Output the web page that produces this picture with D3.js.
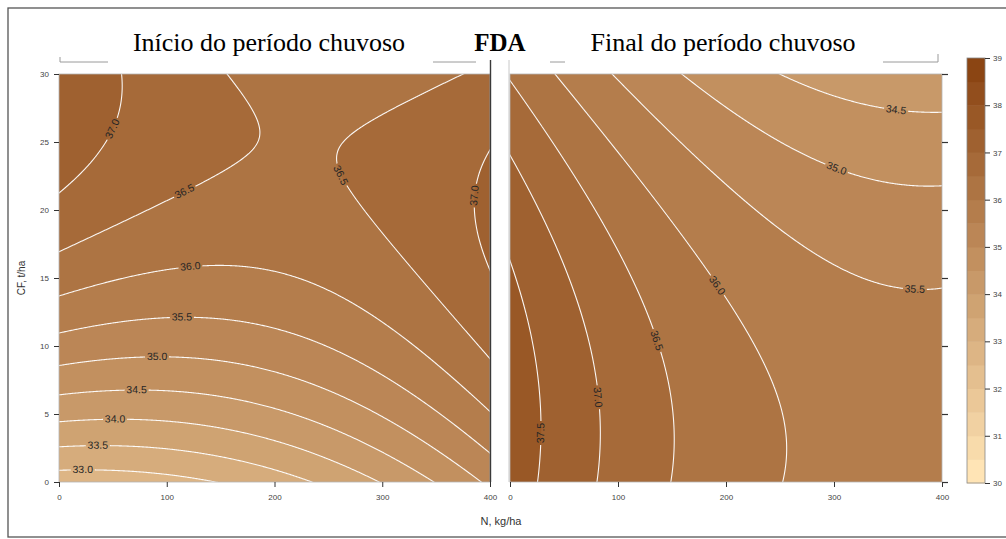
<!DOCTYPE html>
<html>
<head>
<meta charset="utf-8">
<script src="https://cdn.jsdelivr.net/npm/d3@7"></script>
<style>
  body { margin: 0; background: #fff; }
  text { font-family: "Liberation Sans", Arial, sans-serif; }
  text.serif { font-family: "Liberation Serif", "Times New Roman", serif; }
</style>
</head>
<body>
<svg id="chart" width="1006" height="539"></svg>
<script>
// FDA response surfaces: FDA = a + b·CF + c·CF² + d·N + e·N² + h·N·CF
const panelTitles = ["Início do período chuvoso", "Final do período chuvoso"];
const coefInicio = [32.728, 0.307, -0.005, -0.000517, 1.61e-5, -0.000267];
const coefFinal  = [37.756, 0.01679, -0.002012, -0.010607, 1.4435e-5, -2.65e-5];

const nTicks = [0, 100, 200, 300, 400];
const cfTicks = [0, 5, 10, 15, 20, 25, 30];
const legendTicks = [30, 31, 32, 33, 34, 35, 36, 37, 38, 39];
const bandLevels = [30, 30.5, 31, 31.5, 32, 32.5, 33, 33.5, 34, 34.5, 35, 35.5, 36, 36.5, 37, 37.5, 38, 38.5];

// contour label anchors: [level, N, CF]
const labelsInicio = [
  [33.0, 22, 1.3], [33.5, 36, 2.9], [34.0, 52, 4.9], [34.5, 72, 7.0],
  [35.0, 91, 9.5], [35.5, 114, 12.4], [36.0, 121, 16.5], [36.5, 115, 21.6],
  [36.5, 277, 22.8], [37.0, 46, 26.1], [37.0, 379, 21.1]
];
const labelsFinal = [
  [34.5, 358, 27.7], [35.0, 303, 23.2], [35.5, 375, 14.5], [36.0, 189, 14.3],
  [36.5, 136, 10.4], [37.0, 84, 6.25], [37.5, 31, 3.6]
];

const surface = (c, N, CF) => c[0] + c[1]*CF + c[2]*CF*CF + c[3]*N + c[4]*N*N + c[5]*N*CF;
const bandColor = i => d3.interpolateRgb("#FFE4B5", "#8B4513")(i / (bandLevels.length - 1));
const fmt = d3.format(".1f");

const svg = d3.select("#chart");
const defs = svg.append("defs");
const plotTop = 74, plotBottom = 482;
const yScale = d3.scaleLinear().domain([0, 30]).range([plotBottom, plotTop]);

// outer frame
svg.append("rect").attr("x", 8).attr("y", 8).attr("width", 1010).attr("height", 529)
  .attr("fill", "none").attr("stroke", "#555").attr("stroke-width", 1.3);

const panels = [
  { key: "ini", title: panelTitles[0], coef: coefInicio, labels: labelsInicio, x0: 59, x1: 490, titleX: 269, side: "left" },
  { key: "fin", title: panelTitles[1], coef: coefFinal, labels: labelsFinal, x0: 510, x1: 942, titleX: 723, side: "right" }
];

// sampling grid (padded beyond the domain so ring borders fall outside the clip)
const nx = 440, ny = 420, N0 = -4, N1 = 404, C0 = 30.4, C1 = -0.4;
const sx = (N1 - N0) / (nx - 1), sy = (C0 - C1) / (ny - 1);

panels.forEach(p => {
  const xScale = d3.scaleLinear().domain([0, 400]).range([p.x0, p.x1]);
  const values = new Float64Array(nx * ny);
  for (let j = 0; j < ny; j++) {
    const CF = C0 - j * sy;
    for (let i = 0; i < nx; i++) values[j * nx + i] = surface(p.coef, N0 + i * sx, CF);
  }
  const contours = d3.contours().size([nx, ny]).thresholds(bandLevels)(values);
  const proj = d3.geoTransform({
    point(x, y) { this.stream.point(xScale(N0 + x * sx), yScale(C0 - y * sy)); }
  });
  const path = d3.geoPath(proj);

  defs.append("clipPath").attr("id", "clip-" + p.key)
    .append("rect").attr("x", p.x0).attr("y", plotTop)
    .attr("width", p.x1 - p.x0).attr("height", plotBottom - plotTop);

  const g = svg.append("g").attr("clip-path", `url(#clip-${p.key})`);
  g.append("g").selectAll("path").data(contours).join("path")
    .attr("d", path).attr("fill", (d, i) => bandColor(i)).attr("stroke", (d, i) => bandColor(i)).attr("stroke-width", 0.5);

  // label placement: snap the anchor onto its contour and align along the line
  const F = (px, py) => surface(p.coef, xScale.invert(px), yScale.invert(py));
  const placed = p.labels.map(([lev, N, CF]) => {
    let x = xScale(N), y = yScale(CF);
    let gx = 0, gy = 0;
    for (let k = 0; k < 6; k++) {
      gx = (F(x + 0.5, y) - F(x - 0.5, y));
      gy = (F(x, y + 0.5) - F(x, y - 0.5));
      const g2 = gx * gx + gy * gy;
      const diff = F(x, y) - lev;
      x -= diff * gx / g2; y -= diff * gy / g2;
    }
    let ang = Math.atan2(gx, -gy) * 180 / Math.PI;
    if (ang > 90) ang -= 180;
    if (ang <= -90) ang += 180;
    return { lev, x, y, ang };
  });

  const mask = defs.append("mask").attr("id", "mask-" + p.key).attr("maskUnits", "userSpaceOnUse")
    .attr("x", 0).attr("y", 0).attr("width", 1006).attr("height", 539);
  mask.append("rect").attr("width", 1006).attr("height", 539).attr("fill", "#fff");
  mask.selectAll("rect.gap").data(placed).join("rect").attr("class", "gap")
    .attr("x", -12).attr("y", -4.5).attr("width", 24).attr("height", 9).attr("fill", "#000")
    .attr("transform", d => `translate(${d.x},${d.y}) rotate(${d.ang})`);

  g.append("g").attr("mask", `url(#mask-${p.key})`).selectAll("path")
    .data(contours.filter(c => c.value > 30 && c.coordinates.length)).join("path")
    .attr("d", path).attr("fill", "none").attr("stroke", "#fff").attr("stroke-width", 1.1).attr("stroke-opacity", 0.95);

  g.append("g").selectAll("text").data(placed).join("text")
    .attr("transform", d => `translate(${d.x},${d.y}) rotate(${d.ang})`)
    .attr("text-anchor", "middle").attr("dy", "0.35em")
    .attr("font-size", 10.5).attr("fill", "#262626").text(d => fmt(d.lev));

  // plot border
  svg.append("rect").attr("x", p.x0).attr("y", plotTop).attr("width", p.x1 - p.x0).attr("height", plotBottom - plotTop)
    .attr("fill", "none").attr("stroke", "#b5b5b5").attr("stroke-width", 0.8);

  // axes
  const xAxis = svg.append("g").attr("transform", `translate(0,${plotBottom})`)
    .call(d3.axisBottom(xScale).tickValues(nTicks).tickSize(5).tickPadding(7));
  xAxis.select(".domain").remove();
  xAxis.selectAll("line").attr("stroke", "#333");
  xAxis.selectAll("text").attr("font-size", 8).attr("fill", "#444");

  if (p.side === "left") {
    const yAxis = svg.append("g").attr("transform", `translate(${p.x0},0)`)
      .call(d3.axisLeft(yScale).tickValues(cfTicks).tickSize(5).tickPadding(5));
    yAxis.select(".domain").remove();
    yAxis.selectAll("line").attr("stroke", "#333");
    yAxis.selectAll("text").attr("font-size", 8).attr("fill", "#444");
  } else {
    const yAxis = svg.append("g").attr("transform", `translate(${p.x1},0)`)
      .call(d3.axisRight(yScale).tickValues(cfTicks).tickSize(6).tickFormat(""));
    yAxis.select(".domain").remove();
    yAxis.selectAll("line").attr("stroke", "#333").attr("stroke-width", 1.2);
  }

  // panel title
  svg.append("text").attr("class", "serif").attr("x", p.titleX).attr("y", 51).attr("text-anchor", "middle")
    .attr("font-size", 26).attr("fill", "#000").text(p.title);
});

// panel edge strokes
svg.append("line").attr("x1", 490.5).attr("x2", 490.5).attr("y1", 60).attr("y2", plotBottom)
  .attr("stroke", "#3a3a3a").attr("stroke-width", 1.4);
svg.append("line").attr("x1", 509).attr("x2", 509).attr("y1", 60).attr("y2", plotBottom)
  .attr("stroke", "#c8c8c8").attr("stroke-width", 1);
const frameBits = [
  [[60, 57], [60, 62], [108, 62]], [[433, 62], [476, 62]],
  [[550, 62], [565, 62]], [[883, 62], [938, 62], [938, 54]]
];
svg.append("g").selectAll("path").data(frameBits).join("path")
  .attr("d", d => d3.line()(d)).attr("fill", "none").attr("stroke", "#9a9a9a").attr("stroke-width", 1);

// main title
svg.append("text").attr("class", "serif").attr("x", 500).attr("y", 51).attr("text-anchor", "middle")
  .attr("font-size", 25).attr("font-weight", "bold").attr("fill", "#000").text("FDA");

// axis titles
svg.append("text").attr("transform", "translate(25,278) rotate(-90)").attr("text-anchor", "middle")
  .attr("font-size", 10).attr("fill", "#333").text("CF, t/ha");
svg.append("text").attr("x", 501).attr("y", 525).attr("text-anchor", "middle")
  .attr("font-size", 11).attr("fill", "#333").text("N, kg/ha");

// colour key
const legScale = d3.scaleLinear().domain([30, 39]).range([483, 58]);
const leg = svg.append("g");
leg.selectAll("rect").data(bandLevels).join("rect")
  .attr("x", 967).attr("width", 18)
  .attr("y", d => legScale(d + 0.5)).attr("height", d => legScale(d) - legScale(d + 0.5) + 0.5)
  .attr("fill", (d, i) => bandColor(i));
leg.append("rect").attr("x", 967).attr("y", 58).attr("width", 18).attr("height", 425)
  .attr("fill", "none").attr("stroke", "#888").attr("stroke-width", 0.8);
const legAxis = svg.append("g").attr("transform", "translate(985,0)")
  .call(d3.axisRight(legScale).tickValues(legendTicks).tickSize(5).tickPadding(3));
legAxis.select(".domain").remove();
legAxis.selectAll("line").attr("stroke", "#333");
legAxis.selectAll("text").attr("font-size", 8).attr("fill", "#444");
</script>
</body>
</html>
